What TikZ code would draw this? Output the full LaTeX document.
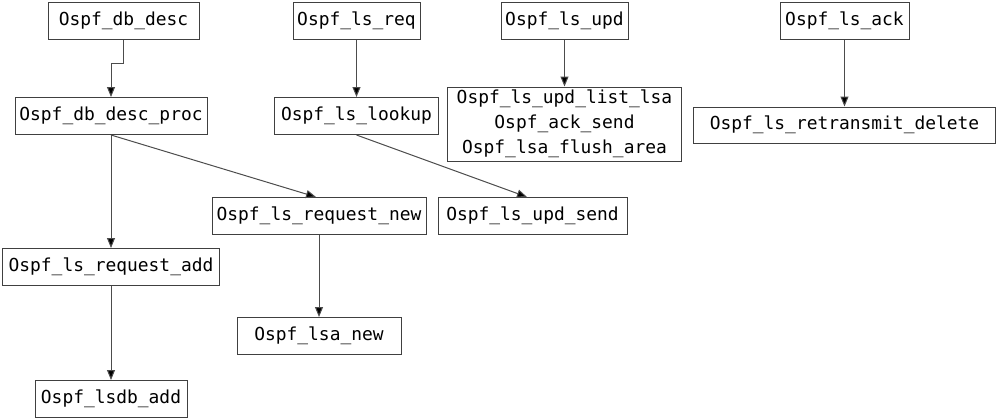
\documentclass[tikz,border=0pt]{standalone}
\usepackage{fontspec}
\setmonofont{DejaVu Sans Mono}
\usetikzlibrary{arrows.meta}
\tikzset{
  fn/.style={draw=black!75, line width=1pt, inner sep=0pt, minimum height=37pt,
    font=\ttfamily\fontsize{17.9pt}{25pt}\selectfont, text=black, align=center},
  edge/.style={draw=black!70, line width=1pt, -{Triangle[length=10pt,width=8pt,fill=black]}}
}
\begin{document}
\begin{tikzpicture}[x=1pt,y=-1pt]
\useasboundingbox (0,0) rectangle (998,420);
\node[fn, minimum width=151pt] (dbdesc) at (123.5,21) {Ospf\_db\_desc};
\node[fn, minimum width=127pt] (lsreq) at (356.5,21) {Ospf\_ls\_req};
\node[fn, minimum width=127pt] (lsupd) at (564.5,21) {Ospf\_ls\_upd};
\node[fn, minimum width=129pt] (lsack) at (844.5,21) {Ospf\_ls\_ack};
\node[fn, minimum width=192pt] (proc) at (111,116) {Ospf\_db\_desc\_proc};
\node[fn, minimum width=164pt] (lookup) at (356.5,116) {Ospf\_ls\_lookup};
\node[fn, minimum width=234pt, minimum height=74pt] (multi) at (564.5,124) {Ospf\_ls\_upd\_list\_lsa\\Ospf\_ack\_send\\Ospf\_lsa\_flush\_area};
\node[fn, minimum width=302pt, minimum height=36pt] (retr) at (844.5,125) {Ospf\_ls\_retransmit\_delete};
\node[fn, minimum width=214pt] (reqnew) at (319,216) {Ospf\_ls\_request\_new};
\node[fn, minimum width=189pt] (updsend) at (532.5,216) {Ospf\_ls\_upd\_send};
\node[fn, minimum width=217pt] (reqadd) at (111,267) {Ospf\_ls\_request\_add};
\node[fn, minimum width=164pt] (lsanew) at (319,336) {Ospf\_lsa\_new};
\node[fn, minimum width=152pt] (lsdbadd) at (111,399) {Ospf\_lsdb\_add};
\draw[edge] (dbdesc.south) -- ++(0,24) -| (proc.north);
\draw[edge] (proc.south) -- ([xshift=-3pt]reqnew.north);
\draw[edge] (proc.south) -- (reqadd.north);
\draw[edge] (lsreq.south) -- (lookup.north);
\draw[edge] (lookup.south) -- ([xshift=-5.5pt]updsend.north);
\draw[edge] (reqnew.south) -- (lsanew.north);
\draw[edge] (reqadd.south) -- (lsdbadd.north);
\draw[edge] (lsupd.south) -- (multi.north);
\draw[edge] (lsack.south) -- (retr.north);
\end{tikzpicture}
\end{document}
